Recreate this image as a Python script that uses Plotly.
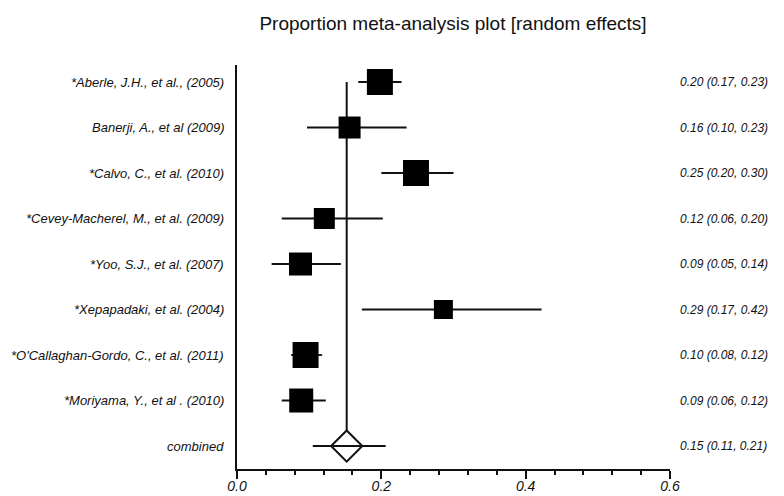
import plotly.graph_objects as go

studies = [
    "*Aberle, J.H., et al., (2005)",
    "Banerji, A., et al (2009)",
    "*Calvo, C., et al. (2010)",
    "*Cevey-Macherel, M., et al. (2009)",
    "*Yoo, S.J., et al. (2007)",
    "*Xepapadaki, et al. (2004)",
    "*O'Callaghan-Gordo, C., et al. (2011)",
    "*Moriyama, Y., et al . (2010)",
]
estimates = [0.198, 0.156, 0.248, 0.121, 0.088, 0.286, 0.095, 0.089]
ci_low = [0.168, 0.097, 0.200, 0.062, 0.048, 0.173, 0.075, 0.062]
ci_high = [0.228, 0.235, 0.300, 0.202, 0.144, 0.422, 0.118, 0.123]
weights = [26, 22, 26, 21, 23, 19, 26, 24]  # box sizes (relative weight)
result_labels = [
    "0.20 (0.17, 0.23)",
    "0.16 (0.10, 0.23)",
    "0.25 (0.20, 0.30)",
    "0.12 (0.06, 0.20)",
    "0.09 (0.05, 0.14)",
    "0.29 (0.17, 0.42)",
    "0.10 (0.08, 0.12)",
    "0.09 (0.06, 0.12)",
]
combined_label = "combined"
combined_est = 0.152
combined_low = 0.105
combined_high = 0.206
combined_result = "0.15 (0.11, 0.21)"

tick_vals = [0.0, 0.2, 0.4, 0.6]
tick_text = ["0.0", "0.2", "0.4", "0.6"]

FONT = "Liberation Sans, Arial, sans-serif"
INK = "#111111"

# page body has an 8px margin; size the figure so it fills the window
W, H = 776, 488
L, R, T, B = 229, 114, 57, 27
plot_w = W - L - R

rows = list(range(1, len(studies) + 1))
comb_row = len(studies) + 1

fig = go.Figure()

# vertical pooled-estimate line
fig.add_trace(go.Scatter(
    x=[combined_est, combined_est], y=[rows[0], comb_row],
    mode="lines", line=dict(color=INK, width=2), hoverinfo="skip", showlegend=False))

# study boxes + CIs
fig.add_trace(go.Scatter(
    x=estimates, y=rows, mode="markers",
    marker=dict(symbol="square", size=weights, color="black", opacity=1,
                line=dict(width=0)),
    error_x=dict(type="data", symmetric=False,
                 array=[h - e for h, e in zip(ci_high, estimates)],
                 arrayminus=[e - l for e, l in zip(estimates, ci_low)],
                 width=0, thickness=1.8, color=INK),
    showlegend=False))

# combined diamond
fig.add_trace(go.Scatter(
    x=[combined_est], y=[comb_row], mode="markers",
    marker=dict(symbol="diamond", size=24, color="white", opacity=1,
                line=dict(color=INK, width=2)),
    showlegend=False))
fig.add_trace(go.Scatter(
    x=[combined_low, combined_high], y=[comb_row, comb_row], mode="lines",
    line=dict(color=INK, width=1.8), showlegend=False))

annots = []
all_labels = studies + [combined_label]
all_results = result_labels + [combined_result]
for r, lab, res in zip(rows + [comb_row], all_labels, all_results):
    annots.append(dict(x=-11 / plot_w, y=r, xref="paper", yref="y", text="<i>%s</i>" % lab,
                       showarrow=False, xanchor="right", yanchor="middle",
                       font=dict(family=FONT, size=13, color=INK)))
    annots.append(dict(x=1 + 8 / plot_w, y=r, xref="paper", yref="y", text="<i>%s</i>" % res,
                       showarrow=False, xanchor="left", yanchor="middle",
                       font=dict(family=FONT, size=12, color=INK)))

fig.update_layout(
    width=W, height=H,
    margin=dict(l=L, r=R, t=T, b=B, autoexpand=False),
    paper_bgcolor="white", plot_bgcolor="white",
    title=dict(text="Proportion meta-analysis plot [random effects]",
               x=(453 - 8) / W, xanchor="center", xref="container",
               y=1 - 15 / H, yanchor="middle", yref="container",
               font=dict(family=FONT, size=19, color=INK)),
    annotations=annots,
    xaxis=dict(range=[0, 0.6], showgrid=False, zeroline=False, automargin=False,
               showline=True, linecolor=INK, linewidth=2,
               ticks="outside", ticklen=8, tickwidth=1.5, tickcolor=INK,
               ticklabelstandoff=-5,
               tickvals=tick_vals, ticktext=["<i>%s</i>" % t for t in tick_text],
               tickfont=dict(family=FONT, size=14, color=INK),
               minor=dict(dtick=0.04, tick0=0, ticks="outside", ticklen=4,
                          tickwidth=1.5, tickcolor=INK, showgrid=False)),
    yaxis=dict(range=[comb_row + 0.505, 0.626], showgrid=False, zeroline=False,
               automargin=False,
               showline=True, linecolor=INK, linewidth=2, showticklabels=False,
               ticks=""),
    showlegend=False,
)

fig.write_html("out.html")
